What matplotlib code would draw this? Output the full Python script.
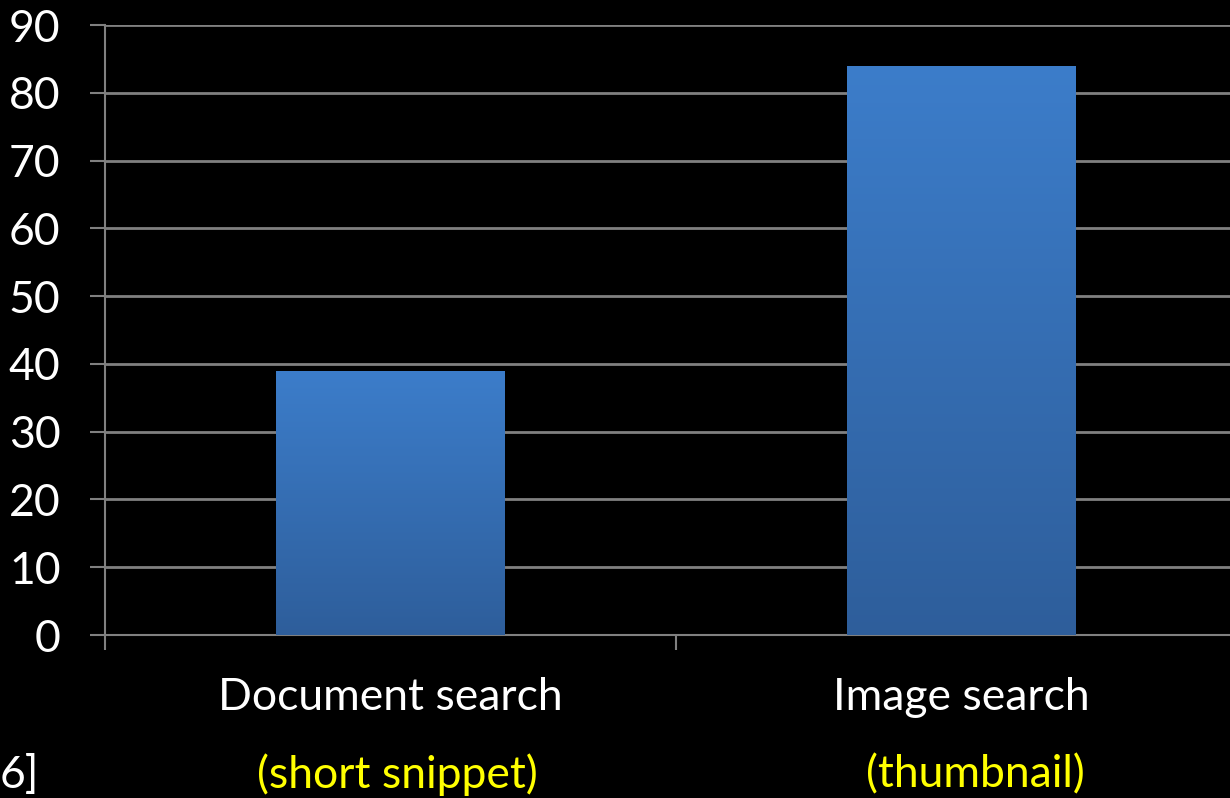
import matplotlib
matplotlib.use("Agg")
import matplotlib.pyplot as plt
import numpy as np
from matplotlib.colors import LinearSegmentedColormap

categories = ["Document search", "Image search"]
subtitles = ["(short snippet)", "(thumbnail)"]
values = [39, 84]
yticks = [0, 10, 20, 30, 40, 50, 60, 70, 80, 90]

plt.rcParams["font.family"] = ["Lato", "DejaVu Sans"]

fig = plt.figure(figsize=(12.3, 7.98), dpi=100, facecolor="black")
ax = fig.add_axes([105 / 1230, 163 / 798, 1142 / 1230, 610 / 798])
ax.set_facecolor("black")

x = np.arange(len(categories))
bars = ax.bar(x, values, width=0.4, color="none", zorder=3)

# vertical gradient fill inside each bar
cmap = LinearSegmentedColormap.from_list("bar", ["#2E5E9B", "#3C7DCA"])
grad = np.linspace(0, 1, 256).reshape(-1, 1)
for rect in bars:
    x0, y0 = rect.get_x(), rect.get_y()
    w, h = rect.get_width(), rect.get_height()
    im = ax.imshow(grad, cmap=cmap, origin="lower", aspect="auto",
                   extent=[x0, x0 + w, y0, y0 + h], zorder=3)
    im.set_clip_path(rect)

ax.set_xlim(-0.5, 1.5)
ax.set_ylim(0, 90)
ax.set_yticks(yticks)
ax.set_yticklabels([str(v) for v in yticks])
ax.yaxis.grid(True, color="#808080", linewidth=2, zorder=1)
ax.set_axisbelow(True)

for side in ["top", "right"]:
    ax.spines[side].set_visible(False)
for side in ["left", "bottom"]:
    ax.spines[side].set_color("#808080")
    ax.spines[side].set_linewidth(1.5)

ax.tick_params(axis="y", colors="#808080", length=11, width=1.5, pad=21,
               labelcolor="white", labelsize=32)
ax.set_xticks(x)
ax.set_xticklabels(categories)
ax.tick_params(axis="x", which="major", length=0, pad=30, labelcolor="white",
               labelsize=32)
ax.set_xticks([-0.5, 0.5, 1.5], minor=True)
ax.tick_params(axis="x", which="minor", colors="#808080", length=11, width=1.5)

sub_x = [397 / 1230, 975 / 1230]
for sx, s in zip(sub_x, subtitles):
    fig.text(sx, 1 - 775 / 798, s, color="#FFFF00", fontsize=32,
             ha="center", va="center")
fig.text(0, 1 - 775 / 798, "6]", color="white", fontsize=32,
         ha="left", va="center")

fig.savefig("out.png", dpi=100, facecolor="black")
